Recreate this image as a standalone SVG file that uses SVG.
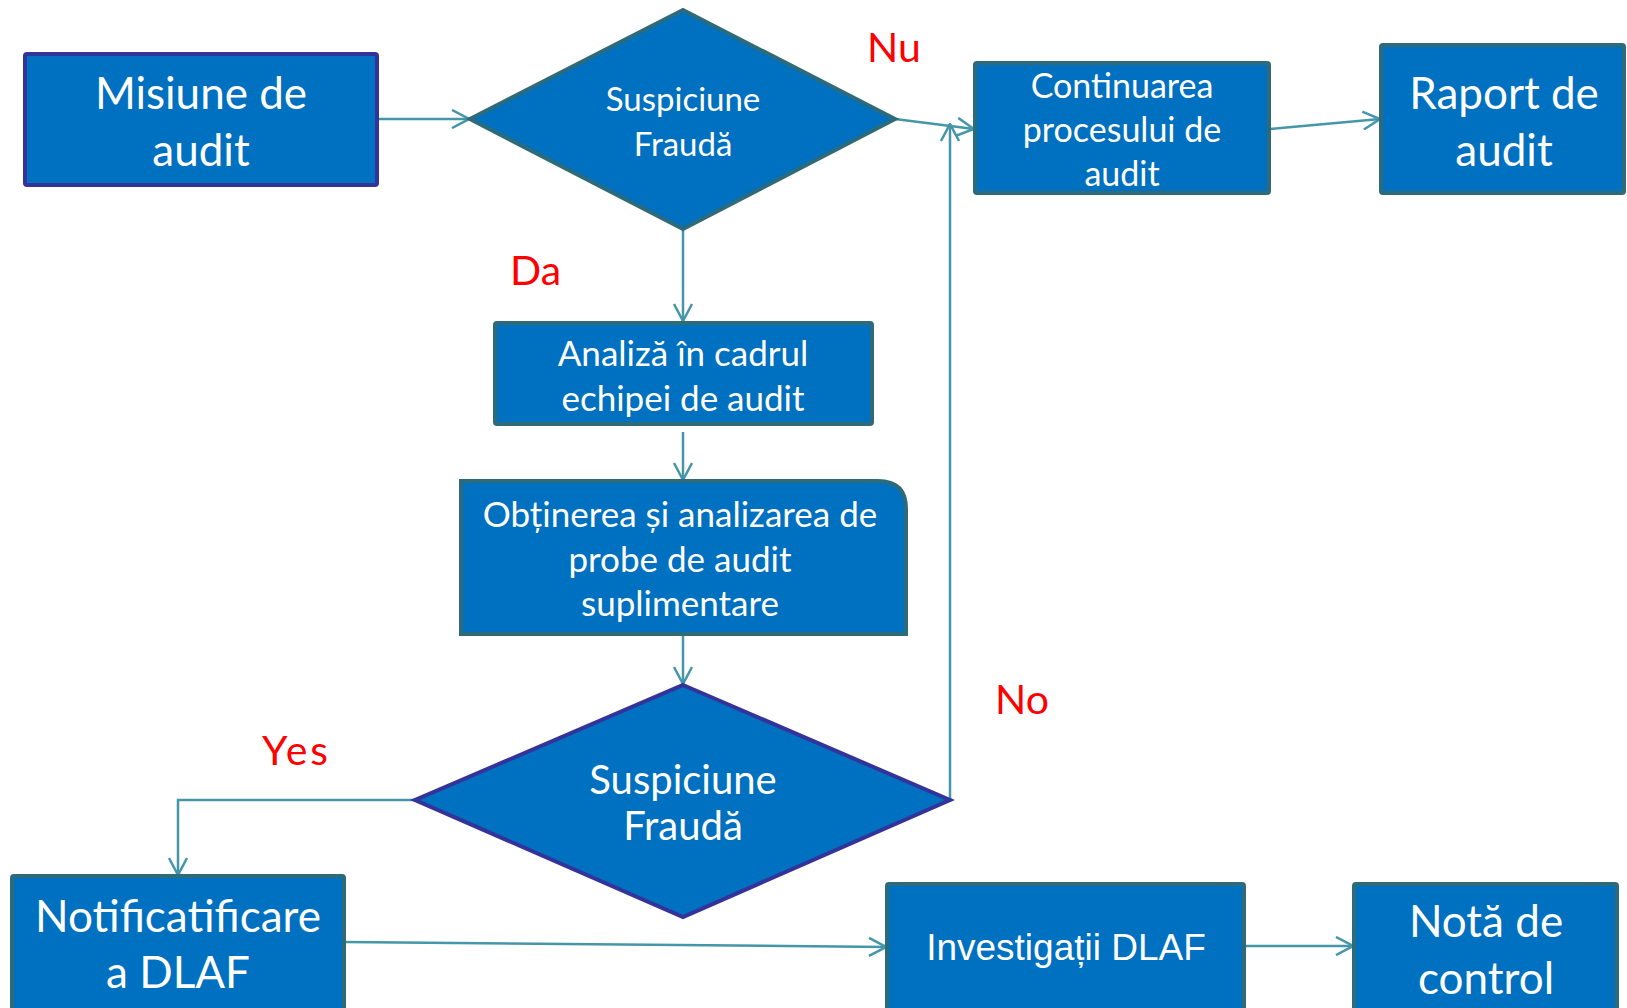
<svg xmlns="http://www.w3.org/2000/svg" width="1627" height="1008" viewBox="0 0 1627 1008">
<style>
.box{fill:#0070C0;stroke:#2D6A7A;stroke-width:4;}
.boxp{fill:#0070C0;stroke:#333399;stroke-width:4;}
.t{fill:#FFFFFF;font-family:Lato,"Open Sans",sans-serif;text-anchor:middle;}
.lbl{fill:#FF0000;font-family:Lato,"Liberation Sans",sans-serif;font-size:41px;}
.c{fill:none;stroke:#4496A8;stroke-width:2.5;marker-end:url(#arr);}
</style>
<defs>
<marker id="arr" markerUnits="userSpaceOnUse" viewBox="0 0 20 20" refX="19" refY="10" markerWidth="20" markerHeight="20" orient="auto">
<path d="M2,1 L19,10 L2,19" fill="none" stroke="#4496A8" stroke-width="2.5"/>
</marker>
</defs>
<rect width="1627" height="1008" fill="#FFFFFF"/>
<g id="connectors">
<path class="c" d="M377,119 L469,119"/>
<path class="c" d="M895,119 L974,129"/>
<path class="c" d="M1269,129 L1380,119"/>
<path class="c" d="M683,229 L683,321"/>
<path class="c" d="M683,432 L683,480"/>
<path class="c" d="M683,634 L683,684"/>
<path class="c" d="M950,800 L950,124"/>
<path class="c" d="M415,800 L178,800 L178,875"/>
<path class="c" d="M344,942 L886,947"/>
<path class="c" d="M1244,946 L1353,946"/>
</g>
<g id="labels">
<text class="lbl" x="867" y="62">Nu</text>
<text class="lbl" x="510" y="285">Da</text>
<text class="lbl" x="995" y="714">No</text>
<text class="lbl" x="262" y="765" textLength="66" lengthAdjust="spacing">Yes</text>
</g>
<g id="misiune">
<rect class="boxp" x="25" y="54" width="352" height="131" rx="2"/>
<text class="t" x="201" y="109" font-size="44">Misiune de</text>
<text class="t" x="201" y="166" font-size="44">audit</text>
</g>
<g id="suspiciune1">
<polygon class="box" points="683,10 895,119 683,229 470,119"/>
<text class="t" x="683" y="111" font-size="33">Suspiciune</text>
<text class="t" x="683" y="156" font-size="33">Fraudă</text>
</g>
<g id="continuarea">
<rect class="box" x="975" y="63" width="294" height="130" rx="2"/>
<text class="t" x="1122" y="98" font-size="34">Continuarea</text>
<text class="t" x="1122" y="142" font-size="34">procesului de</text>
<text class="t" x="1122" y="186" font-size="34">audit</text>
</g>
<g id="raport">
<rect class="box" x="1381" y="45" width="243" height="148" rx="2"/>
<text class="t" x="1504" y="109" font-size="44">Raport de</text>
<text class="t" x="1504" y="166" font-size="44">audit</text>
</g>
<g id="analiza">
<rect class="box" x="495" y="323" width="377" height="101" rx="2"/>
<text class="t" x="683" y="366" font-size="35">Analiză în cadrul</text>
<text class="t" x="683" y="411" font-size="35">echipei de audit</text>
</g>
<g id="obtinerea">
<path class="box" d="M461,481 L878,481 Q906,481 906,509 L906,634 L461,634 Z"/>
<text class="t" x="680" y="527" font-size="35">Obținerea și analizarea de</text>
<text class="t" x="680" y="572" font-size="35">probe de audit</text>
<text class="t" x="680" y="616" font-size="35">suplimentare</text>
</g>
<g id="suspiciune2">
<polygon class="boxp" points="683,685 950,800 683,917 415,800"/>
<text class="t" x="683" y="794" font-size="40">Suspiciune</text>
<text class="t" x="683" y="840" font-size="40">Fraudă</text>
</g>
<g id="notificare">
<rect class="box" x="12" y="876" width="332" height="145" rx="2"/>
<text class="t" x="178" y="932" font-size="44">Notificatificare</text>
<text class="t" x="178" y="988" font-size="44">a DLAF</text>
</g>
<g id="investigatii">
<rect class="box" x="887" y="884" width="357" height="140" rx="2"/>
<text class="t" x="1066" y="960" font-size="37" style="font-family:'Liberation Sans Narrow','Liberation Sans',sans-serif">Investigații DLAF</text>
</g>
<g id="nota">
<rect class="box" x="1354" y="884" width="263" height="140" rx="2"/>
<text class="t" x="1486" y="937" font-size="44">Notă de</text>
<text class="t" x="1486" y="994" font-size="44">control</text>
</g>
</svg>
